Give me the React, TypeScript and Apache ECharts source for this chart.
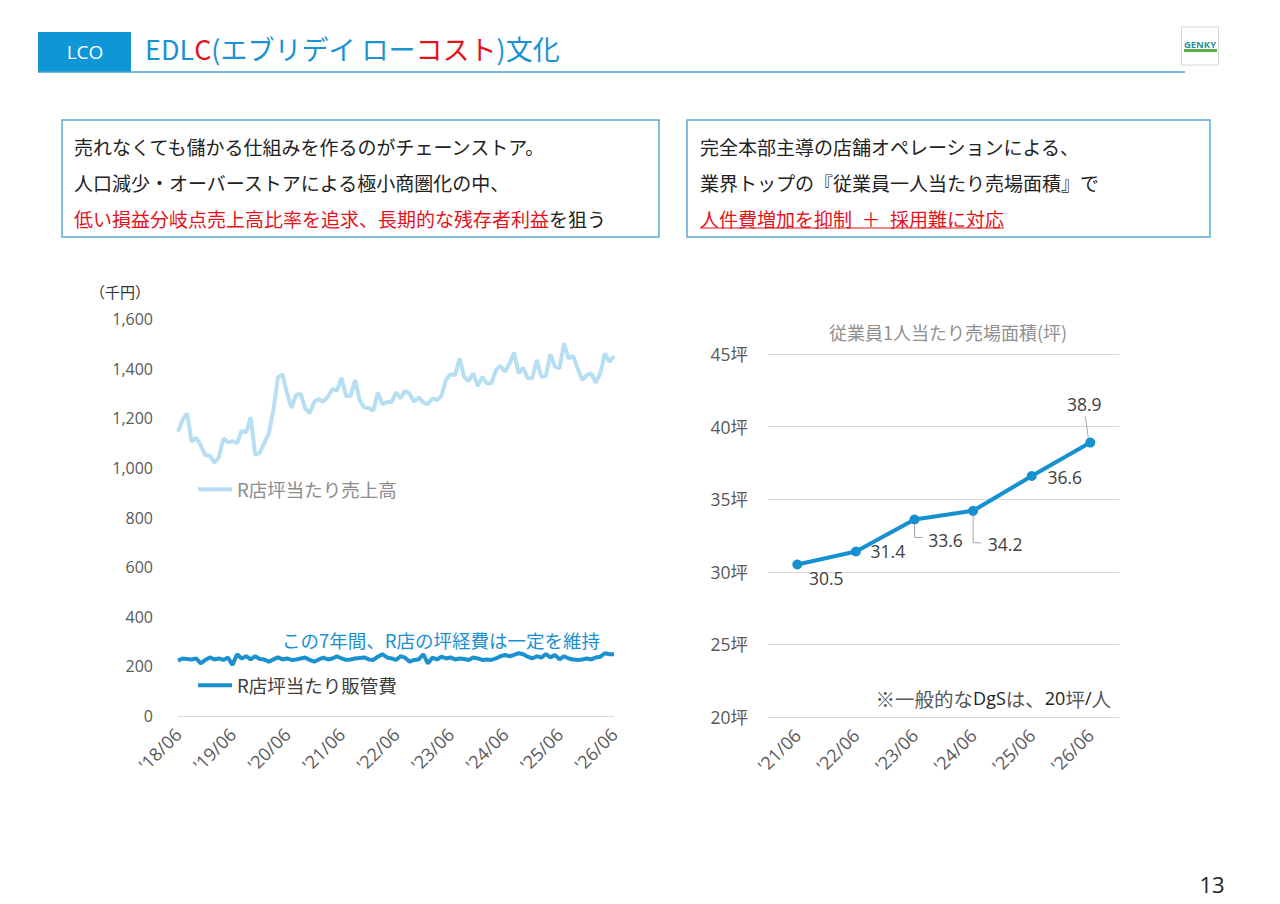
import React, { useEffect, useRef } from 'react';
import * as echarts from 'echarts';

// ---------- data ----------
const monthCategories: string[] = (() => {
  const out: string[] = [];
  for (let y = 18; y <= 26; y++) {
    for (let m = 1; m <= 12; m++) {
      if (y === 18 && m < 6) continue;
      if (y === 26 && m > 6) continue;
      out.push(`'${y}/${String(m).padStart(2, '0')}`);
    }
  }
  return out;
})();

const salesName = 'R店坪当たり売上高';
const sgaName = 'R店坪当たり販管費';

// 千円 / 坪 (monthly, '18/06 – '26/06)
const salesValues = [
  1146, 1193, 1220, 1105, 1122, 1092, 1052, 1049, 1021, 1043,
  1119, 1103, 1108, 1099, 1149, 1143, 1204, 1052, 1061, 1099,
  1139, 1233, 1365, 1377, 1300, 1242, 1294, 1298, 1240, 1220,
  1267, 1276, 1267, 1287, 1317, 1311, 1363, 1290, 1290, 1354,
  1273, 1244, 1240, 1230, 1303, 1257, 1265, 1264, 1304, 1280,
  1311, 1298, 1267, 1284, 1263, 1257, 1280, 1273, 1290, 1354,
  1377, 1374, 1441, 1367, 1350, 1381, 1330, 1367, 1341, 1341,
  1394, 1412, 1387, 1420, 1464, 1381, 1404, 1361, 1361, 1435,
  1367, 1370, 1458, 1408, 1401, 1502, 1441, 1451, 1401, 1354,
  1374, 1381, 1343, 1383, 1461, 1428, 1451,
];

const sgaValues = [
  223, 232, 230, 228, 232, 212, 226, 236, 228, 232,
  226, 236, 206, 249, 232, 241, 228, 241, 230, 228,
  219, 228, 236, 228, 232, 226, 228, 232, 236, 226,
  219, 228, 235, 228, 232, 241, 232, 226, 228, 232,
  234, 236, 228, 226, 239, 249, 236, 232, 226, 241,
  235, 219, 226, 228, 249, 212, 235, 228, 239, 232,
  236, 228, 232, 230, 226, 236, 232, 226, 228, 226,
  232, 241, 246, 241, 246, 253, 249, 239, 232, 241,
  235, 250, 236, 246, 228, 241, 232, 228, 226, 228,
  232, 228, 236, 239, 253, 249, 249,
];

const areaYears = ["'21/06", "'22/06", "'23/06", "'24/06", "'25/06", "'26/06"];
const areaValues = [30.5, 31.4, 33.6, 34.2, 36.6, 38.9];
const leftTicks = { min: 0, max: 1600, interval: 200 };
const rightTicks = { min: 20, max: 45, interval: 5 };

// ---------- styles ----------
const JP = '"Noto Sans CJK JP", "Noto Sans", sans-serif';
const NUM = '"Open Sans", "Noto Sans CJK JP", sans-serif';
const RED = '#e5121b';
const BORDER = '#5aa9d2';
const labelOffsets: [number, number][] = [
  [29, 13], [32, 0], [31, 20], [32, 33], [33, 1], [-6, -39],
];

export default function App() {
  const ref = useRef<HTMLDivElement>(null);

  useEffect(() => {
    if (!ref.current) return;
    const chart = echarts.init(ref.current, undefined, { renderer: 'svg' });

    const option: any = {
      animation: false,
      backgroundColor: '#ffffff',
      textStyle: { fontFamily: NUM },
      grid: [
        { left: 178, top: 319, width: 436, height: 397 },
        { left: 768, top: 354, width: 351.6, height: 363 },
      ],
      legend: [
        {
          data: [salesName], left: 198, top: 480, padding: 0, icon: 'rect',
          itemWidth: 34, itemHeight: 4, selectedMode: false,
          textStyle: { color: '#8c8c8c', fontSize: 18.5, fontFamily: JP },
        },
        {
          data: [sgaName], left: 198, top: 676, padding: 0, icon: 'rect',
          itemWidth: 34, itemHeight: 4, selectedMode: false,
          textStyle: { color: '#404040', fontSize: 18.5, fontFamily: JP },
        },
      ],
      xAxis: [
        {
          gridIndex: 0, type: 'category', data: monthCategories, boundaryGap: false,
          axisLine: { show: true, lineStyle: { color: '#d9d9d9', width: 1 } },
          axisTick: { show: false },
          axisLabel: {
            interval: (_i: number, v: string) => v.endsWith('/06'),
            rotate: 45, color: '#595959', fontSize: 18, margin: 15, fontFamily: NUM,
          },
        },
        {
          gridIndex: 1, type: 'category', data: areaYears, boundaryGap: true,
          axisLine: { show: false }, axisTick: { show: false },
          axisLabel: { rotate: 45, color: '#595959', fontSize: 18, margin: 15, fontFamily: NUM },
        },
      ],
      yAxis: [
        {
          gridIndex: 0, type: 'value', ...leftTicks,
          splitLine: { show: false }, axisLine: { show: false }, axisTick: { show: false },
          axisLabel: {
            color: '#595959', fontSize: 16, margin: 25, fontFamily: NUM,
            formatter: (v: number) => v.toLocaleString('en-US'),
          },
        },
        {
          gridIndex: 1, type: 'value', ...rightTicks,
          splitLine: { lineStyle: { color: '#d9d9d9', width: 1 } },
          axisLine: { show: false }, axisTick: { show: false },
          axisLabel: { color: '#595959', fontSize: 17.5, margin: 20, fontFamily: NUM, formatter: '{value}坪' },
        },
      ],
      series: [
        {
          name: salesName, type: 'line', xAxisIndex: 0, yAxisIndex: 0,
          data: salesValues, symbol: 'none', showSymbol: false,
          lineStyle: { color: '#b7dff3', width: 4 }, itemStyle: { color: '#b7dff3' },
        },
        {
          name: sgaName, type: 'line', xAxisIndex: 0, yAxisIndex: 0,
          data: sgaValues, symbol: 'none', showSymbol: false,
          lineStyle: { color: '#1b91cf', width: 4 }, itemStyle: { color: '#1b91cf' },
        },
        {
          name: '従業員1人当たり売場面積', type: 'line', xAxisIndex: 1, yAxisIndex: 1,
          symbol: 'circle', symbolSize: 10,
          lineStyle: { color: '#1590d0', width: 4 }, itemStyle: { color: '#1590d0' },
          data: areaValues.map((v, i) => ({
            value: v,
            label: {
              show: true, position: 'inside', offset: labelOffsets[i],
              color: '#404040', fontSize: 17.5, fontFamily: NUM,
              formatter: (p: any) => p.value.toFixed(1),
            },
          })),
        },
      ],
    };

    chart.setOption(option);

    const pts = areaValues.map((v, i) =>
      chart.convertToPixel({ xAxisIndex: 1, yAxisIndex: 1 } as any, [i, v]) as number[]
    );
    const leaderStyle = { stroke: '#a6a6a6', lineWidth: 1, fill: 'none' };
    const leaders: any[] = [
      { type: 'polyline', shape: { points: [[pts[2][0], pts[2][1] + 5], [pts[2][0], pts[2][1] + 18], [pts[2][0] + 8, pts[2][1] + 18]] }, style: leaderStyle },
      { type: 'polyline', shape: { points: [[pts[3][0], pts[3][1] + 5], [pts[3][0], pts[3][1] + 32], [pts[3][0] + 8, pts[3][1] + 32]] }, style: leaderStyle },
      { type: 'line', shape: { x1: pts[5][0] - 5, y1: pts[5][1] - 26, x2: pts[5][0] - 2, y2: pts[5][1] - 5 }, style: leaderStyle },
    ];

    const txt = (x: number, y: number, text: string, extra: any = {}) => ({
      type: 'text', x, y,
      style: { text, fill: '#222', fontSize: 19, fontFamily: JP, align: 'left', verticalAlign: 'middle', ...extra },
    });

    const graphics: any[] = [
      // header
      { type: 'rect', shape: { x: 38, y: 32, width: 93, height: 40 }, style: { fill: '#0e96d6' } },
      txt(85, 52, 'LCO', { fill: '#ffffff', fontSize: 19, fontFamily: NUM, align: 'center' }),
      {
        type: 'text', x: 145, y: 48,
        style: {
          text: '{b|EDL}{r|C}{b|(エブリデイ ロー}{r|コスト}{b|)文化}',
          verticalAlign: 'middle', align: 'left',
          rich: {
            b: { fill: '#1993d2', fontSize: 27, fontFamily: JP },
            r: { fill: RED, fontSize: 27, fontFamily: JP },
          },
        },
      },
      { type: 'line', shape: { x1: 38, y1: 72, x2: 1185, y2: 72 }, style: { stroke: '#4ba3cc', lineWidth: 1.5 } },
      // logo
      { type: 'rect', shape: { x: 1181.5, y: 27, width: 37, height: 38 }, style: { fill: '#ffffff', stroke: '#d0d8dc', lineWidth: 1 } },
      txt(1200, 44.5, 'GENKY', { fill: '#2b8f9e', fontSize: 9.5, fontWeight: 'bold', fontFamily: NUM, align: 'center' }),
      { type: 'rect', shape: { x: 1184, y: 49, width: 33, height: 3 }, style: { fill: '#5aae4a' } },
      // boxes
      { type: 'rect', shape: { x: 62, y: 120, width: 597, height: 117 }, style: { fill: 'none', stroke: BORDER, lineWidth: 1.5 } },
      { type: 'rect', shape: { x: 687, y: 120, width: 523, height: 117 }, style: { fill: 'none', stroke: BORDER, lineWidth: 1.5 } },
      txt(74, 146, '売れなくても儲かる仕組みを作るのがチェーンストア。'),
      txt(74, 182, '人口減少・オーバーストアによる極小商圏化の中、'),
      {
        type: 'text', x: 74, y: 218,
        style: {
          text: '{r|低い損益分岐点売上高比率を追求、長期的な残存者利益}{k|を狙う}',
          align: 'left', verticalAlign: 'middle',
          rich: {
            r: { fill: RED, fontSize: 19, fontFamily: JP },
            k: { fill: '#222', fontSize: 19, fontFamily: JP },
          },
        },
      },
      txt(700, 146, '完全本部主導の店舗オペレーションによる、'),
      txt(700, 182, '業界トップの『従業員一人当たり売場面積』で'),
      txt(700, 218, '人件費増加を抑制\u2002＋\u2002採用難に対応', { fill: RED }),
      { type: 'line', shape: { x1: 700, y1: 228, x2: 1004, y2: 228 }, style: { stroke: RED, lineWidth: 1.2 } },
      // left chart texts
      txt(90, 291, '（千円）', { fill: '#333', fontSize: 15 }),
      txt(282, 640, 'この7年間、R店の坪経費は一定を維持', { fill: '#1a8fd0', fontSize: 18.5 }),
      // right chart texts
      txt(948, 332, '従業員1人当たり売場面積(坪)', { fill: '#8f8f8f', fontSize: 18, align: 'center' }),
      {
        type: 'text', x: 1111, y: 698,
        style: {
          text: '{j|※一般的な}{l|DgS}{j|は、}{l|20}{j|坪}{l|/}{j|人}',
          align: 'right', verticalAlign: 'middle',
          rich: {
            j: { fill: '#595959', fontSize: 19.5, fontFamily: JP },
            l: { fill: '#222', fontSize: 18, fontFamily: NUM },
          },
        },
      },
      // page number
      txt(1212, 884, '13', { fill: '#222', fontSize: 22, fontFamily: NUM, align: 'center' }),
      ...leaders,
    ];

    chart.setOption({ graphic: graphics });

    return () => chart.dispose();
  }, []);

  return (
    <div
      ref={ref}
      style={{ position: 'absolute', left: 0, top: 0, width: 1280, height: 904, background: '#fff' }}
    />
  );
}
